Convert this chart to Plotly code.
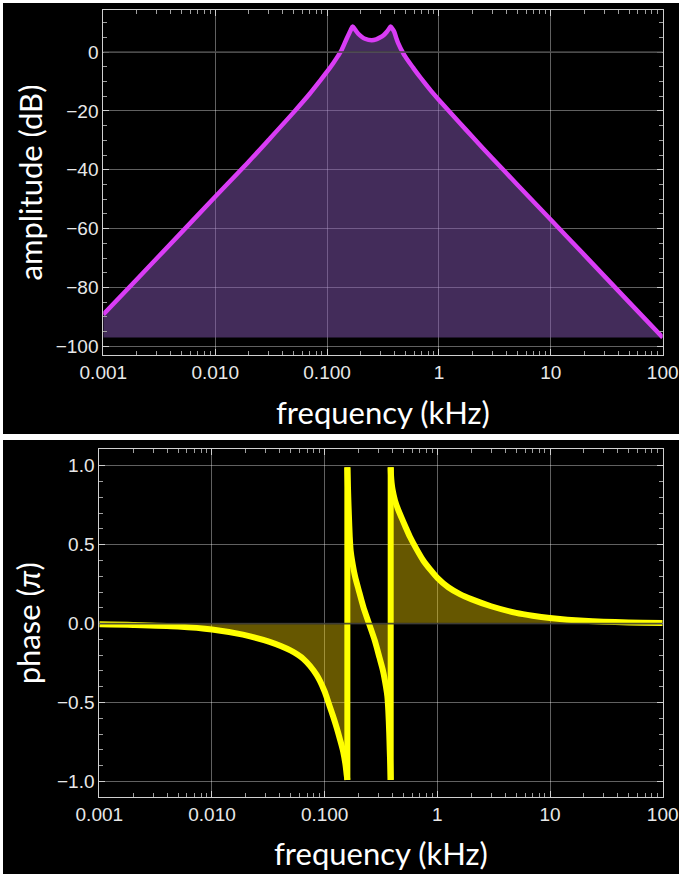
import plotly.graph_objects as go

# ---------------- data ----------------
amp_freq = [0.001, 0.002, 0.005, 0.01, 0.02, 0.03, 0.05, 0.07, 0.0865, 0.1,
            0.1135, 0.125, 0.135, 0.1496, 0.1625, 0.1694, 0.178, 0.19, 0.205,
            0.218, 0.2506, 0.275, 0.297, 0.32, 0.341, 0.357, 0.370, 0.385,
            0.399, 0.415, 0.433, 0.48, 0.53, 0.589, 0.65, 0.724, 0.85, 1.0,
            1.5, 2.0, 3.0, 5.0, 10, 20, 50, 100]
amp_db = [-89.2, -77.2, -61.3, -49.2, -37.2, -29.9, -20.6, -14.2, -9.8, -6.7,
          -3.8, -1.4, 0.7, 4.5, 7.4, 8.7, 7.6, 6.2, 5.1,
          4.5, 4.0, 4.3, 4.9, 5.7, 6.8, 7.8, 8.7, 7.8,
          6.8, 4.8, 2.9, -0.5, -3.0, -5.4, -7.6, -9.9, -13.2, -16.3,
          -23.7, -28.9, -36.1, -45.0, -57.0, -69.0, -85.0, -97.0]

phase_freq = [0.001, 0.002, 0.005, 0.01, 0.0188, 0.032, 0.0497, 0.065, 0.0848,
              0.1, 0.108, 0.118, 0.128, 0.137, 0.146, 0.1535, 0.157, 0.159,
              0.159, 0.1605, 0.162, 0.164, 0.167, 0.1703, 0.175, 0.186, 0.200,
              0.220, 0.2476, 0.2787, 0.3065, 0.3296, 0.350, 0.360, 0.367,
              0.374, 0.378, 0.382, 0.3855,
              0.3855, 0.388, 0.393, 0.40, 0.421, 0.45, 0.482, 0.52, 0.571,
              0.65, 0.75, 0.87, 1.0, 1.25, 1.6, 2.0, 3.0, 5.0, 7.0, 10, 20,
              50, 100]
phase_pi = [-0.004, -0.008, -0.018, -0.037, -0.070, -0.114, -0.17, -0.225, -0.325,
            -0.43, -0.50, -0.58, -0.66, -0.735, -0.81, -0.90, -0.96, -0.99,
            0.99, 0.90, 0.80, 0.69, 0.55, 0.46, 0.40, 0.30, 0.215,
            0.108, 0.0, -0.108, -0.215, -0.30, -0.40, -0.46, -0.55,
            -0.69, -0.80, -0.90, -0.99,
            0.99, 0.94, 0.89, 0.85, 0.78, 0.72, 0.67, 0.615, 0.55,
            0.475, 0.40, 0.34, 0.29, 0.23, 0.185, 0.155, 0.11, 0.068, 0.05,
            0.036, 0.018, 0.007, 0.004]

x_label_alias = {"0.01": "0.010", "0.1": "0.100"}

# ---------------- layout helpers ----------------
W, H = 679, 877


def fx(p):
    return p / W


def fy(p):
    return 1 - p / H


tick_font = dict(family="Liberation Sans Narrow, Arial Narrow, Liberation Sans, sans-serif",
                 size=19, color="#e8e8e8")
title_font = dict(family="Lato, Open Sans, sans-serif", size=31, color="white")

FRAME = "#d0d0d0"
GRID = "rgba(255,255,255,0.38)"
MAGENTA = "#d93cf5"
YELLOW = "#ffff00"


def xaxis_cfg(dom):
    return dict(type="log", range=[-3, 2], domain=dom,
                tickmode="linear", tick0=0, dtick=1, labelalias=x_label_alias,
                ticks="inside", ticklen=6, tickwidth=1, tickcolor="#d0d0d0",
                showline=True, linecolor=FRAME, linewidth=1, mirror="ticks",
                showgrid=True, gridcolor=GRID, gridwidth=1, zeroline=False,
                tickfont=tick_font,
                minor=dict(dtick="D1", ticks="inside", ticklen=4,
                           tickcolor="#a0a0a0", showgrid=False))


def yaxis_cfg(dom, rng, dtick, minor_dtick, fmt):
    return dict(range=rng, domain=dom, tickmode="linear", tick0=0, dtick=dtick,
                tickformat=fmt,
                ticks="inside", ticklen=6, tickwidth=1, tickcolor="#d0d0d0",
                showline=True, linecolor=FRAME, linewidth=1, mirror="ticks",
                showgrid=True, gridcolor=GRID, gridwidth=1, zeroline=False,
                tickfont=tick_font,
                minor=dict(dtick=minor_dtick, tick0=0, ticks="inside", ticklen=4,
                           tickcolor="#a0a0a0", showgrid=False))


fig = go.Figure()

# amplitude: baseline for filling + curve
base = min(amp_db)
fig.add_trace(go.Scatter(x=amp_freq, y=[base] * len(amp_freq), mode="lines",
                         line=dict(width=0, color="rgba(0,0,0,0)"),
                         xaxis="x", yaxis="y", showlegend=False, hoverinfo="skip"))
fig.add_trace(go.Scatter(x=amp_freq, y=amp_db, mode="lines", fill="tonexty",
                         fillcolor="rgba(134,88,180,0.5)",
                         line=dict(width=4.5, color=MAGENTA, shape="spline", smoothing=0.8),
                         xaxis="x", yaxis="y", showlegend=False))

# phase: split into continuous branches at the wrap-around jumps
cuts = [i for i in range(1, len(phase_freq)) if phase_freq[i] == phase_freq[i - 1]]
bounds = [0] + cuts + [len(phase_freq)]
for s, e in zip(bounds[:-1], bounds[1:]):
    fig.add_trace(go.Scatter(x=phase_freq[s:e], y=phase_pi[s:e], mode="lines",
                             fill="tozeroy", fillcolor="rgba(255,218,0,0.4)",
                             line=dict(width=6, color=YELLOW, shape="spline", smoothing=0.8),
                             xaxis="x2", yaxis="y2", showlegend=False))
for i in cuts:
    fig.add_trace(go.Scatter(x=[phase_freq[i - 1], phase_freq[i]],
                             y=[phase_pi[i - 1], phase_pi[i]], mode="lines",
                             line=dict(width=6, color=YELLOW),
                             xaxis="x2", yaxis="y2", showlegend=False))

top_x = [fx(103.3), fx(662.7)]
top_y = [fy(355), fy(10)]
bot_x = [fx(99.3), fx(662.7)]
bot_y = [fy(797.3), fy(449.3)]

shapes = [
    dict(type="rect", xref="paper", yref="paper", x0=fx(3), x1=1, y0=fy(434), y1=fy(3),
         fillcolor="black", line=dict(width=0), layer="below"),
    dict(type="rect", xref="paper", yref="paper", x0=fx(3), x1=1, y0=fy(874), y1=fy(440),
         fillcolor="black", line=dict(width=0), layer="below"),
    dict(type="line", xref="x domain", yref="y", x0=0, x1=1, y0=0, y1=0,
         line=dict(color="#454545", width=1.6), layer="above"),
    dict(type="line", xref="x2 domain", yref="y2", x0=0, x1=1, y0=0, y1=0,
         line=dict(color="rgba(50,50,50,0.85)", width=1.6), layer="above"),
]

annotations = [
    dict(text="frequency (kHz)", xref="paper", yref="paper",
         x=(top_x[0] + top_x[1]) / 2, y=fy(412), showarrow=False,
         xanchor="center", yanchor="middle", font=title_font),
    dict(text="amplitude (dB)", xref="paper", yref="paper",
         x=fx(29), y=(top_y[0] + top_y[1]) / 2, showarrow=False, textangle=-90,
         xanchor="center", yanchor="middle", font=title_font),
    dict(text="frequency (kHz)", xref="paper", yref="paper",
         x=(bot_x[0] + bot_x[1]) / 2, y=fy(853), showarrow=False,
         xanchor="center", yanchor="middle", font=title_font),
    dict(text="phase (<i>\u03c0</i>)", xref="paper", yref="paper",
         x=fx(28), y=(bot_y[0] + bot_y[1]) / 2, showarrow=False, textangle=-90,
         xanchor="center", yanchor="middle", font=title_font),
]

fig.update_layout(
    width=W, height=H,
    margin=dict(l=0, r=0, t=0, b=0, autoexpand=False),
    paper_bgcolor="white", plot_bgcolor="black",
    showlegend=False,
    xaxis=dict(**xaxis_cfg(top_x), anchor="y"),
    yaxis=dict(**yaxis_cfg(top_y, [-102.95, 14.27], 20, 5, "d"), anchor="x"),
    xaxis2=dict(**xaxis_cfg(bot_x), anchor="y2"),
    yaxis2=dict(**yaxis_cfg(bot_y, [-1.1, 1.104], 0.5, 0.1, ".1f"), anchor="x2"),
    shapes=shapes,
    annotations=annotations,
)

fig.write_html("out.html")
